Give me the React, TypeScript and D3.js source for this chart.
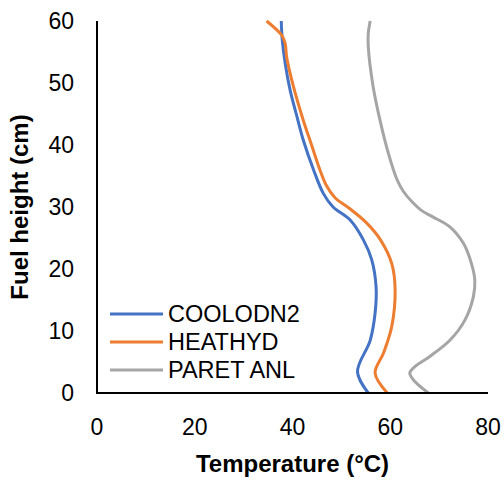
import React from "react";
import * as d3 from "d3";

const xTicks = [0, 20, 40, 60, 80];
const yTicks = [0, 10, 20, 30, 40, 50, 60];

const coolHeight = [0, 3.4, 8.5, 12.9, 17.1, 21.5, 24.7, 27.9, 30.0, 32.2, 36, 40.8, 44.6, 48.9, 53.2, 57, 60];
const coolTemp = [55.5, 53.3, 55.9, 56.9, 57.1, 56.2, 54.5, 51.8, 48.3, 46.3, 44.3, 42.2, 40.9, 39.5, 38.5, 37.9, 37.7];

const heatHeight = [0, 3.2, 6.4, 10.7, 16.6, 20.9, 24.7, 27.4, 29.8, 31.5, 33.5, 36, 40, 44, 49.4, 54.2, 56.4, 57.7, 60];
const heatTemp = [59.4, 56.9, 58.6, 60.3, 61.0, 60.3, 58.0, 55.2, 51.6, 48.7, 46.9, 45.6, 43.9, 42.2, 40.2, 38.8, 38.5, 37.8, 34.7];

const paretHeight = [0, 1.8, 3.2, 4.3, 5.9, 8.5, 11.8, 15.5, 18.2, 20.9, 24.1, 26.8, 28.4, 29.5, 30.8, 32.5, 34.4, 38.7, 44, 49.4, 55.9, 58, 60];
const paretTemp = [67.8, 65.1, 64.0, 65.1, 68.1, 72.2, 75.3, 77.0, 77.3, 76.6, 75.0, 72.2, 68.7, 66.3, 64.5, 62.7, 61.4, 59.6, 57.9, 56.5, 55.5, 55.5, 55.9];

const seriesNames = ["COOLODN2", "HEATHYD", "PARET ANL"];
const seriesColors = ["#4472C4", "#ED7D31", "#A5A5A5"];

export default function App() {
  const W = 504, H = 481;
  const x = d3.scaleLinear().domain([0, 80]).range([97, 488]);
  const y = d3.scaleLinear().domain([0, 60]).range([393, 21]);
  const line = d3
    .line<[number, number]>()
    .x((d) => x(d[0]))
    .y((d) => y(d[1]))
    .curve(d3.curveCatmullRom.alpha(0.5));

  const series = [
    coolTemp.map((t, i) => [t, coolHeight[i]] as [number, number]),
    heatTemp.map((t, i) => [t, heatHeight[i]] as [number, number]),
    paretTemp.map((t, i) => [t, paretHeight[i]] as [number, number]),
  ];
  const font = "'Liberation Sans', Arial, sans-serif";

  return (
    <svg width={W} height={H} style={{ position: "absolute", left: 0, top: 0, background: "#fff" }} fontFamily={font}>
      <rect width={W} height={H} fill="#fff" />
      {series.map((s, i) => (
        <path key={i} d={line(s) || ""} fill="none" stroke={seriesColors[i]} strokeWidth={3} strokeLinejoin="round" strokeLinecap="butt" />
      ))}
      <line x1={x(0)} x2={x(0)} y1={y(0)} y2={y(60)} stroke="#000" strokeWidth={2} />
      <line x1={x(0) - 1} x2={x(80)} y1={y(0)} y2={y(0)} stroke="#000" strokeWidth={2} />
      {xTicks.map((t) => (
        <text key={t} x={x(t)} y={435} textAnchor="middle" fontSize={23} fill="#000">{t}</text>
      ))}
      {yTicks.map((t) => (
        <text key={t} x={74} y={y(t) + 8} textAnchor="end" fontSize={23} fill="#000">{t}</text>
      ))}
      <text x={(x(0) + x(80)) / 2} y={472} textAnchor="middle" fontSize={24} fontWeight="bold" fill="#000">Temperature (°C)</text>
      <text transform={`translate(28, ${(y(0) + y(60)) / 2}) rotate(-90)`} textAnchor="middle" fontSize={24} fontWeight="bold" fill="#000">Fuel height (cm)</text>
      {seriesNames.map((n, i) => (
        <g key={n} transform={`translate(0, ${314 + i * 28})`}>
          <line x1={110} x2={163} y1={0} y2={0} stroke={seriesColors[i]} strokeWidth={3} />
          <text x={168} y={8} fontSize={23.5} fill="#000">{n}</text>
        </g>
      ))}
    </svg>
  );
}
